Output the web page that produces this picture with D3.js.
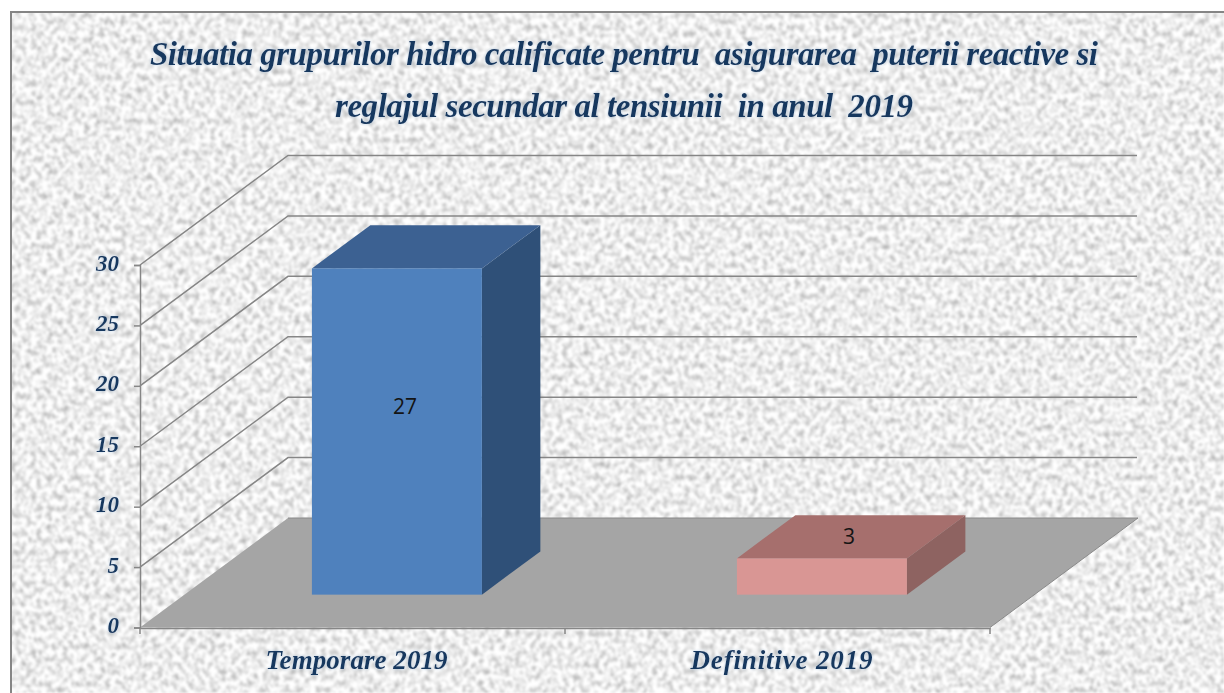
<!DOCTYPE html>
<html><head><meta charset="utf-8">
<script src="https://cdn.jsdelivr.net/npm/d3@7"></script>
<style>html,body{margin:0;padding:0;background:#fff;overflow:hidden}svg{display:block}</style>
</head><body><svg id="c" width="1224" height="693"></svg>
<script>
const titleLines = ["Situatia grupurilor hidro calificate pentru  asigurarea  puterii reactive si","reglajul secundar al tensiunii  in anul  2019"];
const categories = ["Temporare 2019","Definitive 2019"];
const values = [27,3];
const yTicks = [0,5,10,15,20,25,30];
const frontColors = ["#4f81bd","#d99694"];
const sideColors = ["#2f5078","#8e6361"];
const topColors = ["#3c6192","#a66f6d"];

const svg = d3.select("#c");
const defs = svg.append("defs");
const f = defs.append("filter").attr("id","paper").attr("x",0).attr("y",0).attr("width","100%").attr("height","100%").attr("color-interpolation-filters","sRGB");
f.append("feTurbulence").attr("type","fractalNoise").attr("baseFrequency","0.19 0.16").attr("numOctaves",3).attr("seed",7).attr("result","n");
f.append("feColorMatrix").attr("type","matrix").attr("values","0.62 0 0 0 0.62  0.62 0 0 0 0.62  0.62 0 0 0 0.62  0 0 0 0 1");
f.append("feGaussianBlur").attr("stdDeviation",0.9);
const glow = defs.append("filter").attr("id","glow").attr("x","-5%").attr("y","-30%").attr("width","110%").attr("height","160%");
glow.append("feGaussianBlur").attr("in","SourceAlpha").attr("stdDeviation",1.6).attr("result","b");
glow.append("feFlood").attr("flood-color","#8fb4d8").attr("flood-opacity",0.55);
glow.append("feComposite").attr("in2","b").attr("operator","in").attr("result","g");
const mg = glow.append("feMerge"); mg.append("feMergeNode").attr("in","g"); mg.append("feMergeNode").attr("in","SourceGraphic");

// paper panel
svg.append("rect").attr("x",10).attr("y",11).attr("width",1214).attr("height",682).attr("filter","url(#paper)");
svg.append("path").attr("d","M11,693V12H1224").attr("fill","none").attr("stroke","#858585").attr("stroke-width",2);

const serif = "'Liberation Serif',serif";
const ink = "#17375e";
const titleX = 624, titleW = [948,578], titleY = [65,117];
svg.append("g").attr("filter","url(#glow)").selectAll("text").data(titleLines).join("text")
  .attr("x",titleX).attr("y",(d,i)=>titleY[i]).attr("text-anchor","middle")
  .attr("textLength",(d,i)=>titleW[i]).attr("xml:space","preserve").style("white-space","pre")
  .attr("font-family",serif).attr("font-style","italic").attr("font-weight","bold").attr("font-size",33)
  .attr("fill",ink).text(d=>d);

// 3-D projection
const x = d3.scaleBand().domain(categories).range([140,990]);
const y = d3.scaleLinear().domain([0,30]).range([627.5,265]);
const depthX = 148, depthY = -109.5;           // full chart depth
const barFront = 0.30, barBack = 0.695;        // share of the depth used by the bars
const barShare = 0.4;
const labelShift = [[8,-25],[27,-40]];         // label offset from the centre of the bar's front face
const line = d3.line();

const grid = svg.append("g").attr("fill","none").attr("stroke","#868686").attr("stroke-width",1.5);
yTicks.filter(t=>t>0).forEach(t=>{
  const yy = y(t);
  grid.append("path").attr("d",line([[x.range()[0],yy],[x.range()[0]+depthX,yy+depthY],[x.range()[1]+depthX-1,yy+depthY]]));
});

// floor
const x0 = x.range()[0], x1 = x.range()[1], y0 = y(0);
svg.append("path").attr("d",line([[x0,y0],[x1,y0],[x1+depthX,y0+depthY],[x0+depthX,y0+depthY]])+"Z").attr("fill","#a5a5a5");
svg.append("path").attr("d",line([[x0+depthX,y0+depthY],[x1+depthX,y0+depthY],[x1,y0]])).attr("fill","none").attr("stroke","#8a8a8a").attr("stroke-width",1);

// axes
const yAxis = svg.append("g").attr("transform",`translate(${x0},0)`)
  .call(d3.axisLeft(y).tickValues(yTicks).tickSize(6).tickPadding(15));
const xAxis = svg.append("g").attr("transform",`translate(0,${y0+0.5})`)
  .call(d3.axisBottom(x).tickSize(6).tickPadding(16).tickSizeOuter(0));
xAxis.selectAll(".tick line").remove();
const edges = [x0, x0+x.step(), x1];
xAxis.selectAll("line.edge").data(edges).join("line").attr("class","edge")
  .attr("x1",d=>d).attr("x2",d=>d).attr("y1",0).attr("y2",6);
[yAxis,xAxis].forEach(a=>{
  a.selectAll(".domain,line").attr("stroke","#868686").attr("stroke-width",1.5);
  a.selectAll("text").attr("font-family",serif).attr("font-style","italic").attr("font-weight","bold").attr("fill",ink).attr("filter","url(#glow)");
});
yAxis.selectAll("text").attr("font-size",23).attr("dy","0.22em");
xAxis.selectAll("text").attr("font-size",27).attr("dx",4).attr("textLength",182);

// bars
const bars = svg.append("g").selectAll("g").data(categories).join("g");
bars.each(function(c,i){
  const g = d3.select(this);
  const w = x.bandwidth()*barShare;
  const fx = x(c)+(x.bandwidth()-w)/2 + depthX*barFront;
  const by = y0 + depthY*barFront;
  const ty = by - (y(0)-y(values[i]));
  const dx = depthX*(barBack-barFront), dy = depthY*(barBack-barFront);
  g.append("path").attr("fill",sideColors[i]).attr("d",line([[fx+w,by],[fx+w+dx,by+dy],[fx+w+dx,ty+dy],[fx+w,ty]])+"Z");
  g.append("path").attr("fill",topColors[i]).attr("d",line([[fx,ty],[fx+w,ty],[fx+w+dx,ty+dy],[fx+dx,ty+dy]])+"Z");
  g.append("rect").attr("fill",frontColors[i]).attr("x",fx).attr("y",ty).attr("width",w).attr("height",by-ty);
  g.append("text").attr("x",fx+w/2+labelShift[i][0]).attr("y",(by+ty)/2+labelShift[i][1]+7.5)
    .attr("text-anchor","middle").attr("font-family","'Open Sans',sans-serif").attr("font-size",21).attr("fill","#141414").text(values[i]);
});
</script></body></html>
